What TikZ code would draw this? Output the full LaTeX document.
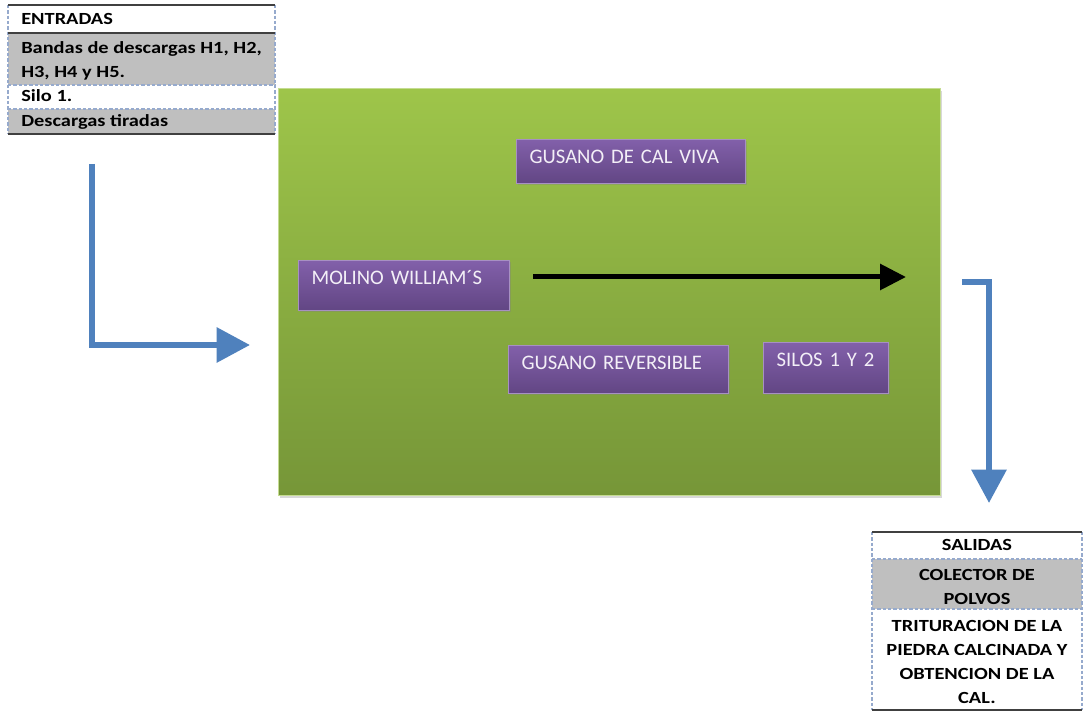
\documentclass[tikz,border=0pt]{standalone}
\usepackage{fontspec}
\setmainfont{Carlito}
\newfontfamily\tabfont[FakeStretch=1.2]{Carlito}
\newfontfamily\etapafont[WordSpace={0.62,0,0}]{Carlito}
\usetikzlibrary{arrows.meta,shadows}
\definecolor{verdeA}{RGB}{158,197,74}
\definecolor{verdeB}{RGB}{118,150,56}
\definecolor{moradoA}{RGB}{130,96,170}
\definecolor{moradoB}{RGB}{98,70,132}
\definecolor{azul}{RGB}{79,129,189}
\definecolor{gris}{RGB}{191,191,191}
\definecolor{guion}{RGB}{150,170,205}

\begin{document}
\begin{tikzpicture}[x=0.75pt,y=-0.75pt,
  fondo/.style={draw=verdeA!60!white,top color=verdeA,bottom color=verdeB,anchor=north west,
    drop shadow={opacity=0.3,shadow xshift=1pt,shadow yshift=-2pt}},
  etapa/.style={draw=moradoA!70!white,top color=moradoA,bottom color=moradoB,text=white!90!moradoA,
    font=\etapafont\fontsize{15.5}{19}\selectfont,align=left,inner xsep=10pt,inner ysep=7.5pt,
    text height=10.5pt,anchor=north west,
    drop shadow={opacity=0.35,shadow xshift=1.2pt,shadow yshift=-1.5pt}},
  celda/.style={font=\tabfont\bfseries\fontsize{12.75}{18}\selectfont,inner sep=0pt},
  solida/.style={draw=black!75,line width=1.1pt},
  punteada/.style={draw=guion,line width=0.8pt,dash pattern=on 2.5pt off 1.5pt},
  flechaazul/.style={draw=azul,line width=4.5pt,-{Triangle[length=25pt,width=25.5pt]}},
  flechanegra/.style={line width=3.75pt,-{Triangle[length=19.5pt,width=19pt]}}]
\useasboundingbox[fill=white] (0,0) rectangle (1083,713);

% entradas
\fill[gris] (8,33) rectangle (275,85);
\fill[gris] (8,109) rectangle (275,134);
\draw[punteada] (8,5) -- (8,134) (275,5) -- (275,134) (8,85) -- (275,85) (8,109) -- (275,109);
\draw[solida] (8,5) -- (275,5) (8,33) -- (275,33) (8,134) -- (275,134);
\node[celda,anchor=base west] (entradas) at (21,25) {ENTRADAS};
\node[celda,anchor=base west,align=left] (bandas) at (21,78) {Bandas de descargas H1, H2,\\H3, H4 y H5.};
\node[celda,anchor=base west] (silo) at (21,102) {Silo 1.};
\node[celda,anchor=base west] (tiradas) at (21,127) {Descargas tiradas};

% proceso
\node[fondo,minimum width=496.5pt,minimum height=305.25pt] (proceso) at (278,88) {};
\node[etapa,text width=151.75pt,text depth=7.5pt] (calviva) at (516,139) {GUSANO DE CAL VIVA};
\node[etapa,text width=138.25pt,text depth=12pt] (molino) at (298,260) {MOLINO WILLIAM´S};
\node[etapa,text width=145pt,text depth=10.5pt] (reversible) at (508,345) {GUSANO REVERSIBLE};
\node[etapa,text width=73.75pt,text depth=12.75pt] (silos) at (763,342) {SILOS 1 Y 2};
\coordinate (m1) at (533,277);
\coordinate (m2) at (906,277);
\draw[flechanegra] (m1) -- (m2);

% salidas
\fill[gris] (872,559) rectangle (1082,609);
\draw[punteada] (872,532) -- (872,710) (1082,532) -- (1082,710) (872,559) -- (1082,559) (872,609) -- (1082,609);
\draw[solida] (872,532) -- (1082,532) (872,710) -- (1082,710);
\node[celda,anchor=base] (salidas) at (977,550) {SALIDAS};
\node[celda,anchor=base,align=center] (colector) at (977,604) {COLECTOR DE\\POLVOS};
\node[celda,anchor=base,align=center] (trituracion) at (977,703) {TRITURACION DE LA\\PIEDRA CALCINADA Y\\OBTENCION DE LA\\CAL.};

% flechas
\coordinate (e1) at (92,164);
\coordinate (e2) at (250,345);
\draw[flechaazul] (e1) |- (e2);
\coordinate (s1) at (962,282);
\coordinate (s2) at (989,503);
\draw[flechaazul] (s1) -| (s2);
\end{tikzpicture}
\end{document}
